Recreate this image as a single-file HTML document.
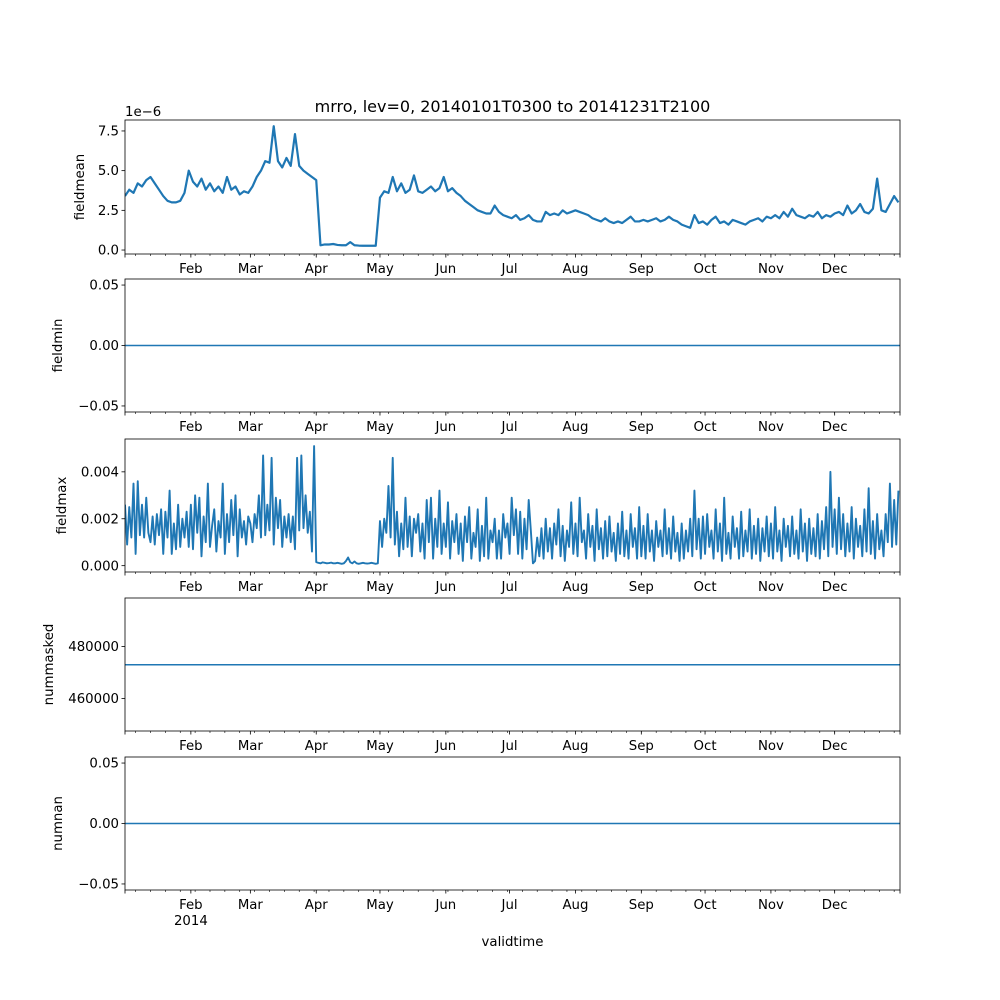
<!DOCTYPE html>
<html><head><meta charset="utf-8"><style>
body{margin:0;background:#fff}
svg{display:block;font-family:"DejaVu Sans","Liberation Sans",sans-serif}
</style></head><body>
<svg id="fig" width="1000" height="1000" viewBox="0 0 1000 1000"></svg>
<script>
const monthNames=["Feb","Mar","Apr","May","Jun","Jul","Aug","Sep","Oct","Nov","Dec"];
const monthStartDays=[31,59,90,120,151,181,212,243,273,304,334];
const meanStep=2;
const meanValues=[3.4,3.8,3.6,4.2,4.0,4.4,4.6,4.2,3.8,3.4,3.1,3.0,3.0,3.1,3.6,5.0,
4.3,4.0,4.5,3.8,4.2,3.7,4.0,3.6,4.6,3.8,4.0,3.5,3.7,3.6,
4.0,4.6,5.0,5.6,5.5,7.8,5.6,5.2,5.8,5.3,7.3,5.3,5.0,4.8,4.6,4.4,
0.3,0.35,0.35,0.38,0.32,0.3,0.3,0.5,0.3,0.28,0.27,0.27,0.27,0.27,
3.3,3.7,3.6,4.6,3.7,4.2,3.6,3.8,4.7,3.7,3.6,3.8,4.0,3.7,3.9,4.6,
3.7,3.9,3.6,3.4,3.1,2.9,2.7,2.5,2.4,2.3,2.3,2.8,2.4,2.2,2.1,
2.0,2.2,1.9,2.0,2.2,1.9,1.8,1.8,2.4,2.2,2.3,2.2,2.5,2.3,2.4,2.5,
2.4,2.3,2.2,2.0,1.9,1.8,2.0,1.8,1.7,1.8,1.7,1.9,2.1,1.8,1.8,
1.9,1.8,1.9,2.0,1.8,1.9,2.1,1.9,1.8,1.6,1.5,1.4,2.2,1.7,1.8,
1.6,1.9,2.1,1.7,1.8,1.6,1.9,1.8,1.7,1.6,1.8,1.9,2.0,1.8,2.1,2.0,
2.2,2.0,2.4,2.1,2.6,2.2,2.1,2.0,2.2,2.1,2.4,2.0,2.2,2.1,2.3,
2.4,2.2,2.8,2.3,2.5,2.9,2.4,2.3,2.6,4.5,2.5,2.4,2.9,3.4,3.0];
const maxStep=1;
const maxValues=[2.6,0.9,2.5,1.2,3.5,0.5,3.6,1.3,2.6,1.2,2.9,1.4,1.0,2.1,0.9,2.2,1.3,2.4,0.5,2.3,1.2,3.2,0.5,1.8,0.7,2.6,0.8,2.0,1.2,2.3,0.8,
2.6,0.7,3.0,1.4,2.9,0.4,2.1,1.0,3.5,0.8,1.7,2.4,0.6,1.9,1.2,3.5,0.5,2.2,1.0,2.8,1.3,3.0,0.4,2.4,1.2,1.9,0.9,2.1,
1.8,1.0,2.2,1.6,3.0,1.2,4.7,1.3,2.6,1.5,4.6,0.9,2.9,1.6,2.8,0.8,2.1,1.2,2.2,1.0,2.1,0.7,4.6,1.5,4.7,1.6,3.0,1.4,2.3,0.6,5.1,
0.15,0.12,0.1,0.14,0.12,0.1,0.11,0.13,0.1,0.1,0.12,0.1,0.08,0.1,0.2,0.35,0.15,0.1,0.18,0.1,0.08,0.1,0.12,0.1,0.09,0.1,0.12,0.1,0.08,0.1,
1.9,0.8,2.0,1.4,3.4,1.2,4.6,0.9,2.3,0.4,1.8,0.7,2.9,0.8,2.1,0.4,2.0,1.4,2.2,0.6,1.8,0.3,2.8,1.0,2.9,0.3,2.0,0.8,3.2,0.5,1.8,
0.8,2.7,0.3,1.9,1.0,2.2,0.5,1.8,0.2,2.1,1.0,2.5,0.3,1.4,0.8,2.4,0.2,1.7,0.4,2.9,0.3,1.5,1.0,2.0,0.3,1.5,0.3,2.2,1.2,1.8,
0.5,2.9,1.3,2.4,0.5,2.3,0.3,2.0,0.7,2.8,1.5,0.1,0.2,1.2,0.4,1.6,0.3,2.0,0.6,1.6,0.3,1.8,0.9,2.4,0.4,1.7,0.2,1.5,0.8,2.7,0.5,
1.8,0.4,2.9,1.0,1.5,0.3,2.2,0.8,1.7,0.2,2.4,0.7,1.6,0.3,1.9,0.4,2.1,0.6,1.4,0.2,1.8,0.5,2.3,0.4,1.5,0.3,2.2,0.8,1.6,0.3,2.5,
0.4,1.7,0.3,2.2,0.6,1.5,0.2,1.9,0.8,1.5,0.4,2.4,0.5,1.6,0.3,2.1,0.6,1.4,0.2,1.8,0.3,1.5,0.6,2.0,0.4,3.2,0.7,2.0,0.3,2.1,
0.5,2.2,0.8,1.5,0.3,2.4,0.6,1.8,0.2,2.9,0.5,1.4,0.3,2.1,0.8,1.6,0.3,2.3,0.4,1.5,0.6,2.4,0.3,1.7,0.5,2.0,0.2,1.6,0.6,2.1,0.4,
1.8,0.3,2.5,0.6,1.5,0.2,2.0,0.8,1.7,0.4,2.1,0.5,1.5,0.3,2.4,0.6,1.8,0.2,2.0,0.5,1.6,0.4,2.2,0.3,1.9,0.7,2.5,0.4,4.0,0.8,
2.4,0.5,2.9,0.7,2.2,0.4,1.8,0.6,2.5,0.3,2.0,0.8,1.7,0.4,2.4,0.6,3.3,0.5,1.9,0.3,2.2,0.7,1.5,0.4,2.2,1.0,3.5,0.8,2.8,0.9,3.2];
const minValue=0;
const maskedValue=473000;
const nanValue=0;
const meanTicks=[0,2.5,5,7.5], meanTickLabels=["0.0","2.5","5.0","7.5"];
const zeroTicks=[-0.05,0,0.05], zeroTickLabels=["\u22120.05","0.00","0.05"];
const maxTicks=[0,2,4], maxTickLabels=["0.000","0.002","0.004"];
const maskTicks=[460000,480000], maskTickLabels=["460000","480000"];

const NS="http://www.w3.org/2000/svg", svg=document.getElementById("fig");
const X0=125,X1=900,DAYS=364.75;
const xs=d=>X0+d/DAYS*(X1-X0);
function el(t,a,p){const e=document.createElementNS(NS,t);for(const k in a)e.setAttribute(k,a[k]);(p||svg).appendChild(e);return e;}
function txt(s,a,p){const e=el("text",a,p);e.textContent=s;return e;}

function panel(name,top,bot,ymin,ymax,ticks,labels,ylabel,lastYear){
  const g=el("g",{});
  
  
  const ys=v=>bot-(v-ymin)/(ymax-ymin)*(bot-top);
  for(let d=5;d<365;d+=7){const x=xs(d);el("line",{x1:x,x2:x,y1:bot,y2:bot+2,stroke:"#000","stroke-width":0.6},g);}
  el("line",{x1:X0,x2:X0,y1:bot,y2:bot+3.5,stroke:"#000","stroke-width":0.8},g);
  el("line",{x1:X1,x2:X1,y1:bot,y2:bot+3.5,stroke:"#000","stroke-width":0.8},g);
  monthStartDays.forEach((d,i)=>{const x=xs(d);
    el("line",{x1:x,x2:x,y1:bot,y2:bot+3.5,stroke:"#000","stroke-width":0.8},g);
    const t=txt(monthNames[i],{x:x,y:bot+19,"font-size":"13.3","text-anchor":"middle",fill:"#000"},g);
    
    
  });
  if(lastYear){const t=txt("2014",{x:xs(31),y:bot+35,"font-size":"13.3","text-anchor":"middle"},g);
    
    }
  ticks.forEach((v,i)=>{const y=ys(v);
    el("line",{x1:X0-3.5,x2:X0,y1:y,y2:y,stroke:"#000","stroke-width":0.8},g);
    const t=txt(labels[i],{x:X0-6,y:y+4.6,"font-size":"13.3","text-anchor":"end"},g);
    
    
  });
  const cy=(top+bot)/2, lx=ylabel.x;
  const yl=txt(ylabel.t,{x:lx,y:cy,"font-size":"13.3","text-anchor":"middle",transform:`rotate(-90 ${lx} ${cy})`},g);
  
  
  return {g,ys,top,bot};
}
function drawSeries(p,vals,step,name,w){
  const pts=vals.map((v,i)=>xs(i*step).toFixed(2)+","+p.ys(v).toFixed(2)).join(" ");
  const cp=el("clipPath",{id:"c"+name},p.g);el("rect",{x:X0,y:p.top,width:X1-X0,height:p.bot-p.top},cp);
  const l=el("polyline",{points:pts,fill:"none",stroke:"#1f77b4","stroke-width":w||1.5,"stroke-linejoin":"round","clip-path":`url(#c${name})`},p.g);
  
  
}
function frame(p){el("rect",{x:X0,y:p.top,width:X1-X0,height:p.bot-p.top,fill:"none",stroke:"#000","stroke-width":0.8},p.g);}

const p1=panel("fieldmean",120,254,-0.25,8.19,meanTicks,meanTickLabels,{t:"fieldmean",x:84});
drawSeries(p1,meanValues,meanStep,"fieldmean",2.2);frame(p1);
const ot=txt("1e\u22126",{x:125,y:116,"font-size":"13.3"});


const p2=panel("fieldmin",279,412,-0.055,0.055,zeroTicks,zeroTickLabels,{t:"fieldmin",x:62});
drawSeries(p2,[minValue,minValue],364.75,"fieldmin");frame(p2);
const p3=panel("fieldmax",439,572,-0.27,5.4,maxTicks,maxTickLabels,{t:"fieldmax",x:66});
drawSeries(p3,maxValues,maxStep,"fieldmax",1.9);frame(p3);
const p4=panel("nummasked",598,731,447500,498700,maskTicks,maskTickLabels,{t:"nummasked",x:53});
drawSeries(p4,[maskedValue,maskedValue],364.75,"nummasked");frame(p4);
const p5=panel("numnan",757,890,-0.055,0.055,zeroTicks,zeroTickLabels,{t:"numnan",x:62},true);
drawSeries(p5,[nanValue,nanValue],364.75,"numnan");frame(p5);

const tt=txt("mrro, lev=0, 20140101T0300 to 20141231T2100",{x:512.5,y:112,"font-size":"16","text-anchor":"middle"});


const xt=txt("validtime",{x:512.5,y:946,"font-size":"13.3","text-anchor":"middle"});


</script>
</body></html>
